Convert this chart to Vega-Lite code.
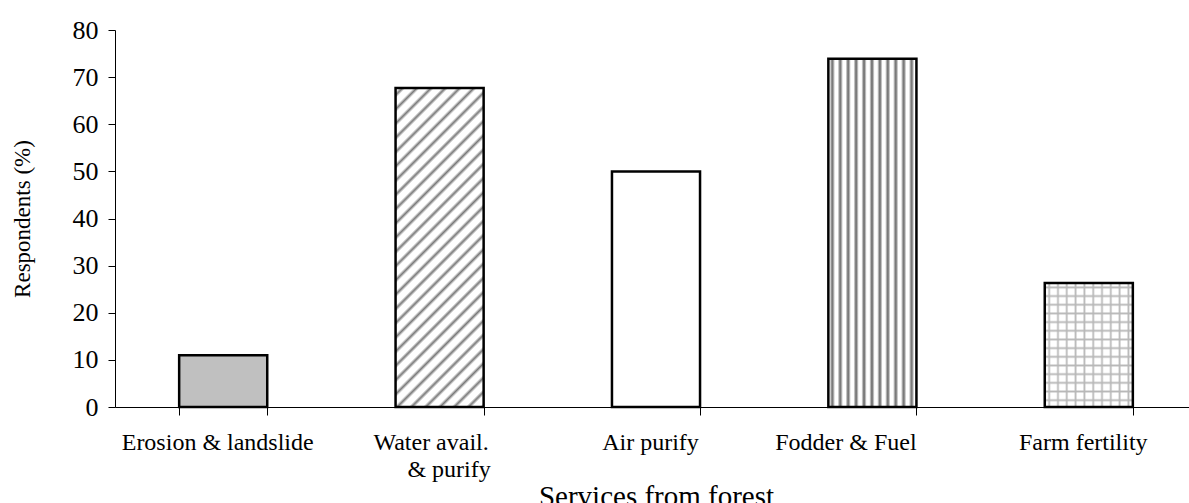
{
  "$schema": "https://vega.github.io/schema/vega-lite/v6.json",
  "autosize": "none",
  "padding": {"left": 115, "top": 30, "right": 0, "bottom": 96},
  "width": 1082,
  "height": 377,
  "background": "white",
  "config": {"view": {"stroke": null}, "font": "Liberation Serif"},
  "data": {"values": [
    {"service": "Erosion & landslide", "pct": 11.0},
    {"service": "Water avail. & purify", "pct": 67.7},
    {"service": "Air purify", "pct": 50.0},
    {"service": "Fodder & Fuel", "pct": 73.9},
    {"service": "Farm fertility", "pct": 26.3}
  ]},
  "encoding": {
    "x": {"field": "service", "type": "nominal",
      "scale": {"domain": ["Erosion & landslide", "Water avail. & purify", "Air purify", "Fodder & Fuel", "Farm fertility"], "paddingInner": 0.593, "paddingOuter": 0.2965},
      "axis": {"title": "Services from forest", "labelAngle": 0, "tickBand": "extent", "tickSize": 8, "tickColor": "black", "domainColor": "black", "labelColor": "black", "labelFontSize": 24, "labelFont": "Liberation Serif", "labelPadding": 15, "labelLineHeight": 27, "labelLimit": 400, "titleFontSize": 29, "titleFont": "Liberation Serif", "titleFontWeight": "normal", "titleColor": "black", "titlePadding": 1,
        "labelExpr": "!isValid(datum.value) ? '' : datum.value == 'Water avail. & purify' ? ['Water avail.\u00a0\u00a0\u00a0\u200b', '\u200b\u00a0\u00a0\u00a0& purify'] : datum.value == 'Fodder & Fuel' ? 'Fodder & Fuel\u00a0\u00a0\u00a0\u00a0\u00a0\u00a0\u00a0\u00a0\u00a0\u200b' : datum.value + '\u00a0\u00a0\u200b'"}
    },
    "y": {"field": "pct", "type": "quantitative",
      "scale": {"domain": [0, 80]},
      "axis": {"title": "Respondents (%)", "values": [0, 10, 20, 30, 40, 50, 60, 70, 80], "grid": false, "tickSize": 7, "tickColor": "black", "domainColor": "black", "labelColor": "black", "labelFontSize": 26, "labelFont": "Liberation Serif", "labelPadding": 10, "titleFontSize": 23, "titleFont": "Liberation Serif", "titleFontWeight": "normal", "titleColor": "black", "titlePadding": 38}
    }
  },
  "layer": [
    {"transform": [{"filter": "datum.service == 'Erosion & landslide'"}], "mark": {"type": "bar", "fill": "#c0c0c0"}},
    {"transform": [{"filter": "datum.service == 'Water avail. & purify'"}], "mark": {"type": "bar", "fill": {"gradient": "linear", "x1": 0, "y1": 0, "x2": 0.327, "y2": 1.186, "stops": [
      {"offset": 0, "color": "white"},
      {"offset": 0.009, "color": "white"}, {"offset": 0.0175, "color": "#7a7a7a"}, {"offset": 0.026, "color": "white"},
      {"offset": 0.044, "color": "white"}, {"offset": 0.0525, "color": "#7a7a7a"}, {"offset": 0.061, "color": "white"},
      {"offset": 0.079, "color": "white"}, {"offset": 0.0875, "color": "#7a7a7a"}, {"offset": 0.096, "color": "white"},
      {"offset": 0.114, "color": "white"}, {"offset": 0.1225, "color": "#7a7a7a"}, {"offset": 0.131, "color": "white"},
      {"offset": 0.149, "color": "white"}, {"offset": 0.1575, "color": "#7a7a7a"}, {"offset": 0.166, "color": "white"},
      {"offset": 0.184, "color": "white"}, {"offset": 0.1925, "color": "#7a7a7a"}, {"offset": 0.201, "color": "white"},
      {"offset": 0.219, "color": "white"}, {"offset": 0.2275, "color": "#7a7a7a"}, {"offset": 0.236, "color": "white"},
      {"offset": 0.254, "color": "white"}, {"offset": 0.2625, "color": "#7a7a7a"}, {"offset": 0.271, "color": "white"},
      {"offset": 0.289, "color": "white"}, {"offset": 0.2975, "color": "#7a7a7a"}, {"offset": 0.306, "color": "white"},
      {"offset": 0.324, "color": "white"}, {"offset": 0.3325, "color": "#7a7a7a"}, {"offset": 0.341, "color": "white"},
      {"offset": 0.359, "color": "white"}, {"offset": 0.3675, "color": "#7a7a7a"}, {"offset": 0.376, "color": "white"},
      {"offset": 0.394, "color": "white"}, {"offset": 0.4025, "color": "#7a7a7a"}, {"offset": 0.411, "color": "white"},
      {"offset": 0.429, "color": "white"}, {"offset": 0.4375, "color": "#7a7a7a"}, {"offset": 0.446, "color": "white"},
      {"offset": 0.464, "color": "white"}, {"offset": 0.4725, "color": "#7a7a7a"}, {"offset": 0.481, "color": "white"},
      {"offset": 0.499, "color": "white"}, {"offset": 0.5075, "color": "#7a7a7a"}, {"offset": 0.516, "color": "white"},
      {"offset": 0.534, "color": "white"}, {"offset": 0.5425, "color": "#7a7a7a"}, {"offset": 0.551, "color": "white"},
      {"offset": 0.569, "color": "white"}, {"offset": 0.5775, "color": "#7a7a7a"}, {"offset": 0.586, "color": "white"},
      {"offset": 0.604, "color": "white"}, {"offset": 0.6125, "color": "#7a7a7a"}, {"offset": 0.621, "color": "white"},
      {"offset": 0.639, "color": "white"}, {"offset": 0.6475, "color": "#7a7a7a"}, {"offset": 0.656, "color": "white"},
      {"offset": 0.674, "color": "white"}, {"offset": 0.6825, "color": "#7a7a7a"}, {"offset": 0.691, "color": "white"},
      {"offset": 0.709, "color": "white"}, {"offset": 0.7175, "color": "#7a7a7a"}, {"offset": 0.726, "color": "white"},
      {"offset": 0.744, "color": "white"}, {"offset": 0.7525, "color": "#7a7a7a"}, {"offset": 0.761, "color": "white"},
      {"offset": 0.779, "color": "white"}, {"offset": 0.7875, "color": "#7a7a7a"}, {"offset": 0.796, "color": "white"},
      {"offset": 0.814, "color": "white"}, {"offset": 0.8225, "color": "#7a7a7a"}, {"offset": 0.831, "color": "white"},
      {"offset": 0.849, "color": "white"}, {"offset": 0.8575, "color": "#7a7a7a"}, {"offset": 0.866, "color": "white"},
      {"offset": 0.884, "color": "white"}, {"offset": 0.8925, "color": "#7a7a7a"}, {"offset": 0.901, "color": "white"},
      {"offset": 0.919, "color": "white"}, {"offset": 0.9275, "color": "#7a7a7a"}, {"offset": 0.936, "color": "white"},
      {"offset": 0.954, "color": "white"}, {"offset": 0.9625, "color": "#7a7a7a"}, {"offset": 0.971, "color": "white"},
      {"offset": 0.989, "color": "white"}, {"offset": 0.9975, "color": "#7a7a7a"}, {"offset": 1, "color": "#a0a0a0"}
    ]}}},
    {"transform": [{"filter": "datum.service == 'Air purify'"}], "mark": {"type": "bar", "fill": "white"}},
    {"transform": [{"filter": "datum.service == 'Fodder & Fuel'"}], "mark": {"type": "bar", "fill": {"gradient": "linear", "x1": 0, "y1": 0, "x2": 1, "y2": 0, "stops": [
      {"offset": 0, "color": "white"},
      {"offset": 0.015, "color": "white"}, {"offset": 0.04, "color": "#7a7a7a"}, {"offset": 0.05, "color": "#7a7a7a"}, {"offset": 0.075, "color": "white"},
      {"offset": 0.105, "color": "white"}, {"offset": 0.13, "color": "#7a7a7a"}, {"offset": 0.14, "color": "#7a7a7a"}, {"offset": 0.165, "color": "white"},
      {"offset": 0.195, "color": "white"}, {"offset": 0.22, "color": "#7a7a7a"}, {"offset": 0.23, "color": "#7a7a7a"}, {"offset": 0.255, "color": "white"},
      {"offset": 0.285, "color": "white"}, {"offset": 0.31, "color": "#7a7a7a"}, {"offset": 0.32, "color": "#7a7a7a"}, {"offset": 0.345, "color": "white"},
      {"offset": 0.375, "color": "white"}, {"offset": 0.40, "color": "#7a7a7a"}, {"offset": 0.41, "color": "#7a7a7a"}, {"offset": 0.435, "color": "white"},
      {"offset": 0.465, "color": "white"}, {"offset": 0.49, "color": "#7a7a7a"}, {"offset": 0.50, "color": "#7a7a7a"}, {"offset": 0.525, "color": "white"},
      {"offset": 0.555, "color": "white"}, {"offset": 0.58, "color": "#7a7a7a"}, {"offset": 0.59, "color": "#7a7a7a"}, {"offset": 0.615, "color": "white"},
      {"offset": 0.645, "color": "white"}, {"offset": 0.67, "color": "#7a7a7a"}, {"offset": 0.68, "color": "#7a7a7a"}, {"offset": 0.705, "color": "white"},
      {"offset": 0.735, "color": "white"}, {"offset": 0.76, "color": "#7a7a7a"}, {"offset": 0.77, "color": "#7a7a7a"}, {"offset": 0.795, "color": "white"},
      {"offset": 0.825, "color": "white"}, {"offset": 0.85, "color": "#7a7a7a"}, {"offset": 0.86, "color": "#7a7a7a"}, {"offset": 0.885, "color": "white"},
      {"offset": 0.915, "color": "white"}, {"offset": 0.94, "color": "#7a7a7a"}, {"offset": 0.95, "color": "#7a7a7a"}, {"offset": 0.975, "color": "white"},
      {"offset": 1, "color": "white"}
    ]}}},
    {"transform": [{"filter": "datum.service == 'Farm fertility'"}], "mark": {"type": "bar", "fill": {"gradient": "linear", "x1": 0, "y1": 0, "x2": 1, "y2": 0, "stops": [
      {"offset": 0, "color": "white"},
      {"offset": 0.03, "color": "white"}, {"offset": 0.05, "color": "#b8b8b8"}, {"offset": 0.07, "color": "white"},
      {"offset": 0.13, "color": "white"}, {"offset": 0.15, "color": "#b8b8b8"}, {"offset": 0.17, "color": "white"},
      {"offset": 0.23, "color": "white"}, {"offset": 0.25, "color": "#b8b8b8"}, {"offset": 0.27, "color": "white"},
      {"offset": 0.33, "color": "white"}, {"offset": 0.35, "color": "#b8b8b8"}, {"offset": 0.37, "color": "white"},
      {"offset": 0.43, "color": "white"}, {"offset": 0.45, "color": "#b8b8b8"}, {"offset": 0.47, "color": "white"},
      {"offset": 0.53, "color": "white"}, {"offset": 0.55, "color": "#b8b8b8"}, {"offset": 0.57, "color": "white"},
      {"offset": 0.63, "color": "white"}, {"offset": 0.65, "color": "#b8b8b8"}, {"offset": 0.67, "color": "white"},
      {"offset": 0.73, "color": "white"}, {"offset": 0.75, "color": "#b8b8b8"}, {"offset": 0.77, "color": "white"},
      {"offset": 0.83, "color": "white"}, {"offset": 0.85, "color": "#b8b8b8"}, {"offset": 0.87, "color": "white"},
      {"offset": 0.93, "color": "white"}, {"offset": 0.95, "color": "#b8b8b8"}, {"offset": 0.97, "color": "white"},
      {"offset": 1, "color": "white"}
    ]}}},
    {"transform": [{"filter": "datum.service == 'Farm fertility'"}], "mark": {"type": "bar", "fill": {"gradient": "linear", "x1": 0, "y1": 0, "x2": 0, "y2": 1, "stops": [
      {"offset": 0, "color": "rgba(184,184,184,0)"},
      {"offset": 0.02, "color": "rgba(184,184,184,0)"}, {"offset": 0.035, "color": "rgba(184,184,184,1)"}, {"offset": 0.05, "color": "rgba(184,184,184,0)"},
      {"offset": 0.09, "color": "rgba(184,184,184,0)"}, {"offset": 0.105, "color": "rgba(184,184,184,1)"}, {"offset": 0.12, "color": "rgba(184,184,184,0)"},
      {"offset": 0.16, "color": "rgba(184,184,184,0)"}, {"offset": 0.175, "color": "rgba(184,184,184,1)"}, {"offset": 0.19, "color": "rgba(184,184,184,0)"},
      {"offset": 0.23, "color": "rgba(184,184,184,0)"}, {"offset": 0.245, "color": "rgba(184,184,184,1)"}, {"offset": 0.26, "color": "rgba(184,184,184,0)"},
      {"offset": 0.30, "color": "rgba(184,184,184,0)"}, {"offset": 0.315, "color": "rgba(184,184,184,1)"}, {"offset": 0.33, "color": "rgba(184,184,184,0)"},
      {"offset": 0.37, "color": "rgba(184,184,184,0)"}, {"offset": 0.385, "color": "rgba(184,184,184,1)"}, {"offset": 0.40, "color": "rgba(184,184,184,0)"},
      {"offset": 0.44, "color": "rgba(184,184,184,0)"}, {"offset": 0.455, "color": "rgba(184,184,184,1)"}, {"offset": 0.47, "color": "rgba(184,184,184,0)"},
      {"offset": 0.51, "color": "rgba(184,184,184,0)"}, {"offset": 0.525, "color": "rgba(184,184,184,1)"}, {"offset": 0.54, "color": "rgba(184,184,184,0)"},
      {"offset": 0.58, "color": "rgba(184,184,184,0)"}, {"offset": 0.595, "color": "rgba(184,184,184,1)"}, {"offset": 0.61, "color": "rgba(184,184,184,0)"},
      {"offset": 0.65, "color": "rgba(184,184,184,0)"}, {"offset": 0.665, "color": "rgba(184,184,184,1)"}, {"offset": 0.68, "color": "rgba(184,184,184,0)"},
      {"offset": 0.72, "color": "rgba(184,184,184,0)"}, {"offset": 0.735, "color": "rgba(184,184,184,1)"}, {"offset": 0.75, "color": "rgba(184,184,184,0)"},
      {"offset": 0.79, "color": "rgba(184,184,184,0)"}, {"offset": 0.805, "color": "rgba(184,184,184,1)"}, {"offset": 0.82, "color": "rgba(184,184,184,0)"},
      {"offset": 0.86, "color": "rgba(184,184,184,0)"}, {"offset": 0.875, "color": "rgba(184,184,184,1)"}, {"offset": 0.89, "color": "rgba(184,184,184,0)"},
      {"offset": 0.93, "color": "rgba(184,184,184,0)"}, {"offset": 0.945, "color": "rgba(184,184,184,1)"}, {"offset": 0.96, "color": "rgba(184,184,184,0)"},
      {"offset": 1, "color": "rgba(184,184,184,0)"}
    ]}}},
    {"mark": {"type": "bar", "fillOpacity": 0, "stroke": "black", "strokeWidth": 2.5}}
  ]
}
